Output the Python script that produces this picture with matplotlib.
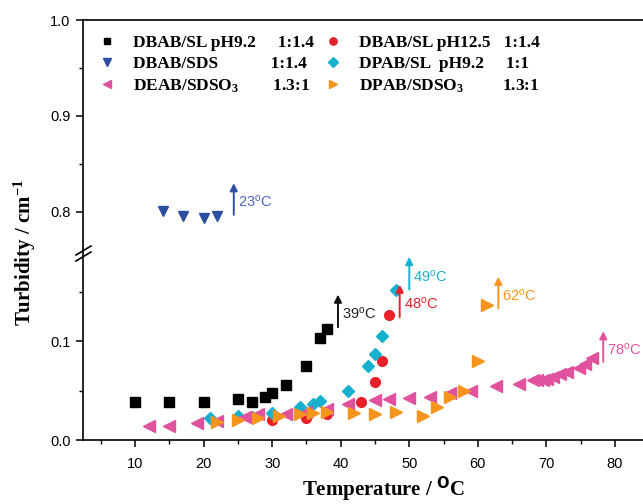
import matplotlib
matplotlib.use("Agg")
import matplotlib.pyplot as plt
from matplotlib.lines import Line2D
from matplotlib.ticker import MultipleLocator

plt.rcParams["font.family"] = ["Liberation Sans", "DejaVu Sans"]
plt.rcParams["mathtext.default"] = "regular"

# DBAB/SL pH9.2 1:1.4
t_sq = [10, 15, 20, 25, 27, 29, 30, 32, 35, 37, 38]
y_sq = [0.038, 0.038, 0.038, 0.041, 0.038, 0.043, 0.047, 0.056, 0.075, 0.103, 0.112]
# DBAB/SL pH12.5 1:1.4
t_circ = [30, 35, 38, 43, 45, 46, 47]
y_circ = [0.020, 0.022, 0.026, 0.038, 0.059, 0.080, 0.126]
# DBAB/SDS 1:1.4
t_down = [14, 17, 20, 22]
y_down = [0.801, 0.796, 0.794, 0.796]
# DPAB/SL pH9.2 1:1
t_dia = [21, 25, 27, 30, 34, 36, 37, 41, 44, 45, 46, 48]
y_dia = [0.022, 0.024, 0.0235, 0.027, 0.033, 0.036, 0.039, 0.050, 0.075, 0.087, 0.105, 0.152]
# DEAB/SDSO3 1.3:1
t_left = [12, 15, 19, 22, 26, 28, 32, 35, 38, 41, 45, 47, 50, 53, 56, 59, 62.7, 66,
          68, 68.7, 69.5, 70.1, 71, 72, 73, 74.8, 75.7, 76.7]
y_left = [0.0145, 0.0145, 0.017, 0.0195, 0.0235, 0.026, 0.026, 0.0286, 0.031, 0.036,
          0.040, 0.041, 0.042, 0.043, 0.047, 0.050, 0.0545, 0.0565, 0.061, 0.061, 0.061,
          0.062, 0.064, 0.067, 0.069, 0.073, 0.077, 0.0825]
# DPAB/SDSO3 1.3:1
t_right = [22, 25, 28, 31, 34, 36, 38, 42, 45, 48, 52, 54, 56, 58, 60, 61.3]
y_right = [0.0185, 0.020, 0.022, 0.024, 0.026, 0.027, 0.0286, 0.0276, 0.026, 0.0286,
           0.024, 0.033, 0.043, 0.050, 0.080, 0.136]

labels = ["DBAB/SL pH9.2     1:1.4", "DBAB/SL pH12.5   1:1.4",
          "DBAB/SDS            1:1.4", "DPAB/SL  pH9.2     1:1",
          "DEAB/SDSO$_3$        1.3:1", "DPAB/SDSO$_3$         1.3:1"]

# cloud point arrows: temperature label, arrow x, arrow bottom, arrow top, colour
arrow_temp = ["23", "39", "49", "48", "62", "78"]
arrow_x = [24.4, 39.6, 50.0, 48.6, 63.0, 78.3]
arrow_y0 = [0.797, 0.114, 0.152, 0.124, 0.133, 0.079]
arrow_y1 = [0.830, 0.147, 0.185, 0.157, 0.165, 0.110]
arrow_col = ["#2f4fa2", "#111111", "#19b0d0", "#e8202a", "#f7941d", "#e0529e"]
text_col = ["#4a66b8", "#222222", "#19b0d0", "#e8202a", "#f7941d", "#e0529e"]

fig = plt.figure(figsize=(6.43, 5.04), dpi=100)
W, H = 643, 504
left = 83 / W
ax_lo = fig.add_axes([left, (H - 440) / H, 1 - left, 188 / H])
ax_hi = fig.add_axes([left, (H - 252) / H, 1 - left, 232 / H], sharex=ax_lo)

ax_lo.set_xlim(2.4, 84.1)
ax_lo.set_ylim(0, 0.19)
ax_hi.set_ylim(0.7583, 1.0)

ms = dict(linestyle="none")
handles = []
for ax in (ax_lo, ax_hi):
    h1, = ax.plot(t_sq, y_sq, "s", color="black", ms=6.5, **ms)
    h2, = ax.plot(t_circ, y_circ, "o", color="#e8202a", ms=7, **ms)
    h3, = ax.plot(t_down, y_down, "v", color="#2b4ea0", ms=7.5, **ms)
    h4, = ax.plot(t_dia, y_dia, "D", color="#17b1cf", ms=6.5, **ms)
    h5, = ax.plot(t_left, y_left, "<", color="#e0529e", ms=8, **ms)
    h6, = ax.plot(t_right, y_right, ">", color="#f7941d", ms=8, **ms)
    handles = [h1, h2, h3, h4, h5, h6]

for i, temp in enumerate(arrow_temp):
    ax = ax_hi if arrow_y0[i] > 0.5 else ax_lo
    ax.annotate("", xy=(arrow_x[i], arrow_y1[i]), xytext=(arrow_x[i], arrow_y0[i]),
                arrowprops=dict(arrowstyle="-|>", color=arrow_col[i], lw=1.4,
                                mutation_scale=11, shrinkA=0, shrinkB=0))
    ax.text(arrow_x[i] + 0.6, (arrow_y0[i] + arrow_y1[i]) / 2 - 0.003,
            temp + "$^{o}$C", color=text_col[i], fontsize=10.5, va="center", ha="left")

for ax in (ax_lo, ax_hi):
    ax.spines["right"].set_visible(False)
    for s in ax.spines.values():
        s.set_linewidth(1.2)
    ax.tick_params(direction="out", length=5, width=1.1, labelsize=10.5, pad=4)
    ax.tick_params(which="minor", direction="out", length=3, width=1.0)

ax_lo.spines["top"].set_visible(False)
ax_hi.spines["bottom"].set_visible(False)
ax_hi.tick_params(axis="x", which="both", bottom=False, labelbottom=False)

ax_lo.xaxis.set_major_locator(MultipleLocator(10))
ax_lo.xaxis.set_minor_locator(MultipleLocator(5))
ax_lo.tick_params(axis="x", pad=7)
ax_lo.yaxis.set_major_locator(MultipleLocator(0.1))
ax_lo.yaxis.set_minor_locator(MultipleLocator(0.05))
ax_hi.yaxis.set_major_locator(MultipleLocator(0.1))
ax_hi.yaxis.set_minor_locator(MultipleLocator(0.05))
ax_lo.yaxis.set_major_formatter(plt.FormatStrFormatter("%.1f"))
ax_hi.yaxis.set_major_formatter(plt.FormatStrFormatter("%.1f"))

serif = dict(family="Liberation Serif", weight="bold")
fig.text(384 / W, 1 - 489 / H, "Temperature / $^{\\mathbf{O}}$C", fontsize=15,
         ha="center", va="center", **serif)
fig.text(25 / W, 1 - 252 / H, "Turbidity / cm$^{-1}$", fontsize=15,
         rotation=90, ha="center", va="center", **serif)

# legend is filled column by column, so reorder to get the reference's rows
order = [0, 2, 4, 1, 3, 5]
leg = ax_hi.legend([handles[i] for i in order], [labels[i] for i in order], ncol=2,
                   loc="upper left", frameon=False, bbox_to_anchor=(0.0, 1.005),
                   prop=dict(family="Liberation Serif", weight="bold", size=12.5),
                   markerscale=0.75, handlelength=1.0, handletextpad=1.0,
                   columnspacing=0.6, labelspacing=0.3, borderaxespad=0.5)

# axis break marks on the left spine
for dy in (-3, 3):
    fig.add_artist(Line2D([76 / W, 91 / W], [1 - (258 + dy) / H, 1 - (249 + dy) / H],
                          color="black", lw=1.2))

fig.savefig("out.png", dpi=100)
